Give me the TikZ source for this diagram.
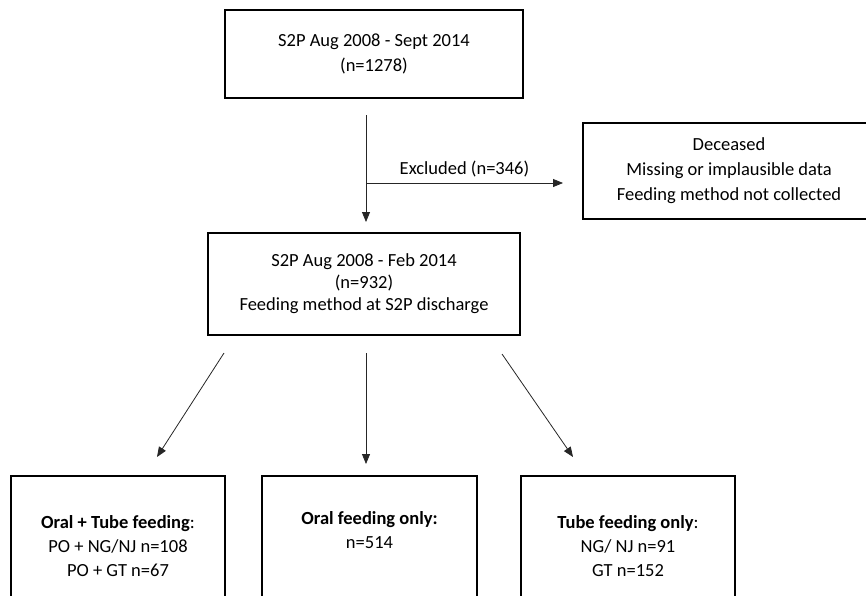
\documentclass[tikz,border=0pt]{standalone}
\usepackage{fontspec}
\setmainfont{Carlito}
\usetikzlibrary{arrows.meta}

\begin{document}
\begin{tikzpicture}[x=1pt,y=-1pt,
        box/.style={draw, line width=2pt, align=center, inner sep=0pt, font=\fontsize{18.5}{25}\selectfont},
        arr/.style={-{Triangle[length=10pt,width=8pt]}, line width=0.8pt, black!85}]
            \useasboundingbox (0,0) rectangle (866,595);

            \node[box, minimum width=298pt, minimum height=88pt] (all) at (374,54) {S2P Aug 2008 - Sept 2014\\(n=1278)};
            \node[box, minimum width=312pt, minimum height=102pt, font=\fontsize{18.5}{22}\selectfont] (study) at (364,284) {S2P Aug 2008 - Feb 2014\\(n=932)\\Feeding method at S2P discharge};
            \node[box, minimum width=292pt, minimum height=96pt] (excl) at (729,171) {Deceased\\Missing or implausible data\\Feeding method not collected};

            \node[box, minimum width=214pt, minimum height=140pt, font=\fontsize{18.5}{24}\selectfont] (mixed) at (118,546) {\textbf{Oral + Tube feeding}:\\PO + NG/NJ n=108\\PO + GT n=67};
            \node[box, minimum width=215pt, minimum height=140pt, font=\fontsize{18.5}{24}\selectfont] (oral) at (369.5,546) {\textbf{Oral feeding only:}\\n=514\\\strut};
            \node[box, minimum width=214pt, minimum height=140pt, font=\fontsize{18.5}{24}\selectfont] (tube) at (628,546) {\textbf{Tube feeding only}:\\NG/ NJ n=91\\GT n=152};

            \coordinate (top) at (366,115);
            \coordinate (split) at (366,183);
            \coordinate (in) at (366,222);
            \coordinate (out) at (563,183);

            \draw[arr] (top) -- (in);
            \draw[arr] (split) -- node[above=2pt, black, font=\fontsize{18.5}{20}\selectfont] {Excluded (n=346)} (out);

            \draw[arr] ([xshift=17pt,yshift=-17pt]study.south west) -- ([xshift=39pt,yshift=18pt]mixed.north);
            \draw[arr] ([xshift=2pt,yshift=-17pt]study.south) -- ([xshift=-3.5pt,yshift=11pt]oral.north);
            \draw[arr] ([xshift=-19pt,yshift=-18pt]study.south east) -- ([xshift=-55pt,yshift=18pt]tube.north);
        \end{tikzpicture}
\end{document}
